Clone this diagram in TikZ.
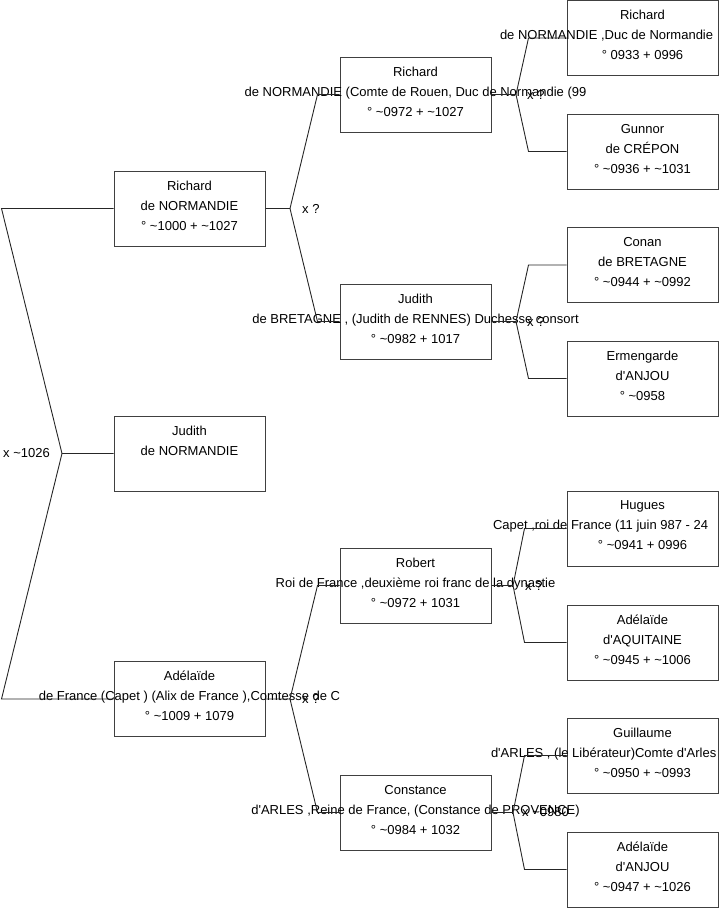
\documentclass[tikz,border=0pt]{standalone}
\usepackage{fontspec}
\setmainfont{Liberation Sans}
\usepackage{tikz}
\newcommand{\wide}[1]{\makebox[0pt]{#1}}
\newcommand{\cutline}[2]{\makebox[0pt]{\makebox[#1][l]{#2}}}
\newcommand{\ca}{\textasciitilde}
\newcommand{\ap}{\textquotesingle}

\begin{document}
\begin{tikzpicture}[x=1pt, y=-1pt,
    person/.style={draw=black!75, line width=1pt, minimum width=151pt, minimum height=75pt,
                   inner sep=0pt, align=center, font=\fontsize{13}{20}\selectfont},
    union/.style={inner sep=0pt, font=\fontsize{13}{20}\selectfont},
    link/.style={draw=black!85, line width=0.9pt}]
                \useasboundingbox (0,0) rectangle (719,908);
                % Nodes
                \node[person] (richard) at (189.5,208.5) {Richard\\de NORMANDIE\\° \ca1000 + \ca1027\strut};
                \node[person] (judith) at (189.5,453.5) {Judith\\de NORMANDIE\\\strut};
                \node[person] (adelaide) at (189.5,699) {Adélaïde\\\wide{de France (Capet ) (Alix de France ),Comtesse de C}\\° \ca1009 + 1079\strut};
                \node[person] (richardII) at (415.5,94.5) {Richard\\\wide{de NORMANDIE (Comte de Rouen, Duc de Normandie (99}\\° \ca0972 + \ca1027\strut};
                \node[person] (judithB) at (415.5,321.5) {Judith\\\wide{de BRETAGNE , (Judith de RENNES) Duchesse consort}\\° \ca0982 + 1017\strut};
                \node[person] (robert) at (415.5,585.5) {Robert\\\wide{Roi de France ,deuxième roi franc de la dynastie}\\° \ca0972 + 1031\strut};
                \node[person] (constance) at (415.5,812.5) {Constance\\\wide{d\ap ARLES ,Reine de France, (Constance de PROVENCE)}\\° \ca0984 + 1032\strut};
                \node[person] (richardI) at (642.5,38) {Richard\\\cutline{285pt}{de NORMANDIE ,Duc de Normandie}\\° 0933 + 0996\strut};
                \node[person] (gunnor) at (642.5,151.5) {Gunnor\\de CRÉPON\\° \ca0936 + \ca1031\strut};
                \node[person] (conan) at (642.5,265) {Conan\\de BRETAGNE\\° \ca0944 + \ca0992\strut};
                \node[person] (ermengarde) at (642.5,378.5) {Ermengarde\\d\ap ANJOU\\° \ca0958\strut};
                \node[person] (hugues) at (642.5,528.5) {Hugues\\\cutline{299pt}{Capet ,roi de France (11 juin 987 - 24}\\° \ca0941 + 0996\strut};
                \node[person] (adelaideA) at (642.5,642.5) {Adélaïde\\d\ap AQUITAINE\\° \ca0945 + \ca1006\strut};
                \node[person] (guillaume) at (642.5,755.5) {Guillaume\\\cutline{303pt}{d\ap ARLES , (le Libérateur)Comte d\ap Arles}\\° \ca0950 + \ca0993\strut};
                \node[person] (adelaideJ) at (642.5,869.5) {Adélaïde\\d\ap ANJOU\\° \ca0947 + \ca1026\strut};
                % Unions
                \coordinate (o) at (1.5,0);
                \coordinate (m0) at (62,453.5);
                \coordinate (m1) at (290,208.5);
                \coordinate (m2) at (290,699);
                \coordinate (m3) at (516,94.5);
                \coordinate (m4) at (516,321.5);
                \coordinate (m5) at (513,585.5);
                \coordinate (m6) at (513,812.5);
                \node[union, anchor=east] (u0) at (50,453.5) {x \ca1026};
                \node[union, anchor=west] (u1) at (302,208.5) {x ?};
                \node[union, anchor=west] (u2) at (302,699) {x ?};
                \node[union, anchor=west] (u3) at (527,94.5) {x ?};
                \node[union, anchor=west] (u4) at (527,321.5) {x ?};
                \node[union, anchor=west] (u5) at (525,585.5) {x ?};
                \node[union, anchor=west] (u6) at (522,812.5) {x \ca0980};
                % Edges
                \draw[link] (judith.west) -- (m0) -- (richard.west -| o) -- (richard.west);
                \draw[link] (m0) -- (adelaide.west -| o) -- (adelaide.west);
                \draw[link] (richard.east) -- (m1) -- ([xshift=-22pt]richardII.west) -- (richardII.west);
                \draw[link] (m1) -- ([xshift=-22pt]judithB.west) -- (judithB.west);
                \draw[link] (adelaide.east) -- (m2) -- ([xshift=-22pt]robert.west) -- (robert.west);
                \draw[link] (m2) -- ([xshift=-22pt]constance.west) -- (constance.west);
                \draw[link] (richardII.east) -- (m3) -- ([xshift=-38pt]richardI.west) -- (richardI.west);
                \draw[link] (m3) -- ([xshift=-38pt]gunnor.west) -- (gunnor.west);
                \draw[link] (judithB.east) -- (m4) -- ([xshift=-38pt]conan.west) -- (conan.west);
                \draw[link] (m4) -- ([xshift=-38pt]ermengarde.west) -- (ermengarde.west);
                \draw[link] (robert.east) -- (m5) -- ([xshift=-42pt]hugues.west) -- (hugues.west);
                \draw[link] (m5) -- ([xshift=-42pt]adelaideA.west) -- (adelaideA.west);
                \draw[link] (constance.east) -- (m6) -- ([xshift=-42pt]guillaume.west) -- (guillaume.west);
                \draw[link] (m6) -- ([xshift=-42pt]adelaideJ.west) -- (adelaideJ.west);
            \end{tikzpicture}
\end{document}
